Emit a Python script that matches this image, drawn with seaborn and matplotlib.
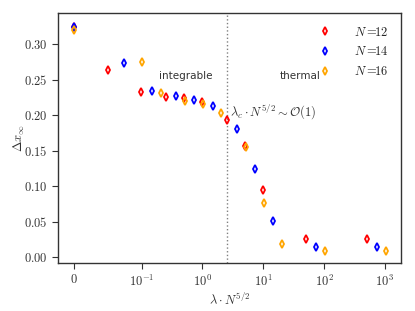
import numpy as np
import pandas as pd
import matplotlib
matplotlib.use("Agg")
import matplotlib.pyplot as plt
import seaborn as sns

# lambda values used for every system size, and the sizes themselves
lam = [0, 1e-4, 2e-4, 5e-4, 1e-3, 2e-3, 5e-3, 1e-2, 2e-2, 1e-1, 1]
sizes = [12, 14, 16]
colors = ["red", "blue", "orange"]

# Delta x_inf
dx_12 = [0.324, 0.263, 0.232, 0.225, 0.2245, 0.218, 0.193, 0.157, 0.095, 0.0254, 0.0254]
dx_14 = [0.324, 0.274, 0.2335, 0.2268, 0.222, 0.2127, 0.180, 0.1245, 0.051, 0.0145, 0.0145]
dx_16 = [0.320, 0.275, 0.2315, 0.2202, 0.2164, 0.2024, 0.1545, 0.0765, 0.0183, 0.008, 0.008]

lam_c_scaled = 2.5

rows = []
for n, dx in zip(sizes, [dx_12, dx_14, dx_16]):
    for l, d in zip(lam, dx):
        rows.append({"x": l * n ** 2.5, "dx": d, "N": n})
df = pd.DataFrame(rows)

sns.set_style("ticks")
plt.rcParams["mathtext.fontset"] = "cm"
plt.rcParams["font.family"] = ["DejaVu Sans"]

fig = plt.figure(figsize=(4.15, 3.11), dpi=100)
ax = fig.add_axes([0.1398, 0.1543, 0.8262, 0.8037])

sns.lineplot(data=df, x="x", y="dx", hue="N", palette=colors, marker="d",
             linestyle="", markersize=3.6, estimator=None, sort=False,
             legend=False, ax=ax)
for line, c in zip(ax.lines, colors):
    line.set_markerfacecolor("none")
    line.set_markeredgecolor(c)
    line.set_markeredgewidth(1.3)

handles = list(ax.lines[:3])
ax.legend(handles, [r"$N=\!\!$" + r"$\mathrm{%d}$" % n for n in sizes],
          loc="upper right", frameon=False, fontsize=9,
          handletextpad=1.8, labelspacing=0.55, borderaxespad=0.6,
          handlelength=1.0)

ax.axvline(lam_c_scaled, color="gray", ls=":", lw=1.0, zorder=0)

ax.set_xscale("symlog", linthresh=0.1, linscale=1)
ax.set_xlim(-0.0236, 1830)
ax.set_ylim(-0.0085, 0.344)
ax.set_xticks([0, 0.1, 1, 10, 100, 1000])
ax.set_xticklabels([r"$0$", r"$10^{-1}$", r"$10^{0}$", r"$10^{1}$", r"$10^{2}$", r"$10^{3}$"])
ax.xaxis.set_minor_locator(matplotlib.ticker.NullLocator())
yt = [0.0, 0.05, 0.10, 0.15, 0.20, 0.25, 0.30]
ax.set_yticks(yt)
ax.set_yticklabels([r"$%.2f$" % v for v in yt])
ax.tick_params(labelsize=9, length=4, width=0.8, color="#333333", labelcolor="#333333")
for s in ax.spines.values():
    s.set_color("#333333")
    s.set_linewidth(1.0)

ax.set_xlabel(r"$\lambda \cdot N^{5/2}$", fontsize=9, labelpad=2, color="#333333")
ax.set_ylabel(r"$\Delta x_{\infty}$", fontsize=9, labelpad=-2, color="#333333")

ax.text(0.53, 0.2554, "integrable", ha="center", va="center", fontsize=7.5, color="#333333")
ax.text(40, 0.2554, "thermal", ha="center", va="center", fontsize=7.5, color="#333333")
ax.text(2.85, 0.2046, r"$\lambda_c \cdot N^{5/2} \sim \mathcal{O}(1)$", ha="left",
        va="center", fontsize=9, color="#333333")

fig.savefig("out.png", dpi=100)
